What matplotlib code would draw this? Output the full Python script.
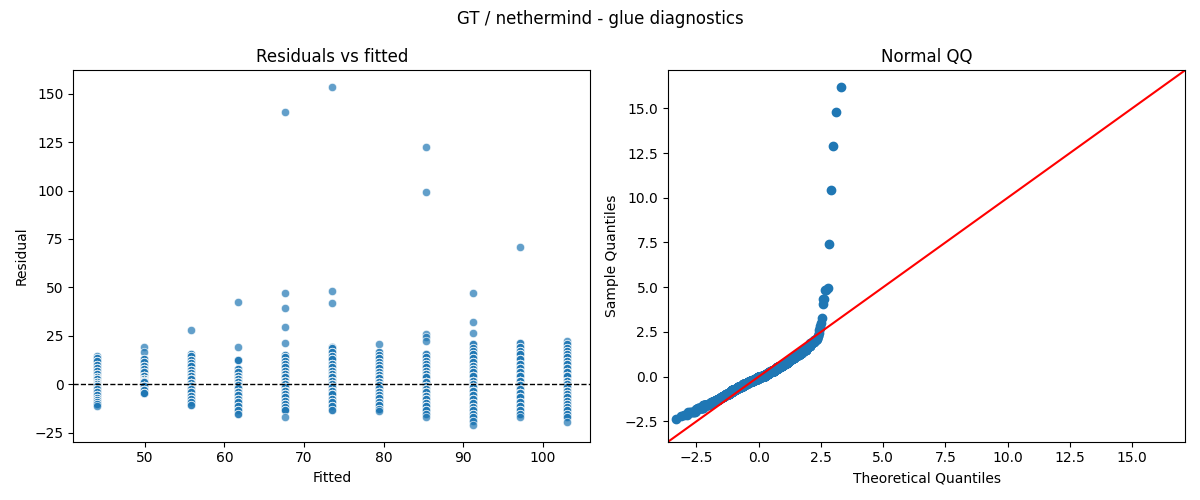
import numpy as np
import matplotlib
matplotlib.use("Agg")
import matplotlib.pyplot as plt
from statistics import NormalDist

# fitted value of each group
fitted_levels = [44.0, 49.9, 55.8, 61.7, 67.6, 73.5, 79.4, 85.3, 91.2, 97.1, 103.0]

# residual values seen in each group, and how many observations sit there
resid_by_level = [
    [14.7, 13.5, 12, 10, 8.5, 7, 5.5, 4, 2.5, 1, 0, -1, -2.5, -4, -5.5, -7, -8, -9, -10, -11.3],
    [19.5, 16.6, 13, 11.3, 9.6, 7.9, 6.2, 4.5, 3, 1.9, 1, -0.7, -2.7, -4.5],
    [27.8, 15.8, 14.4, 12.7, 11, 9.3, 7.5, 5.8, 4.5, 2.7, 0.7, -0.7, -2.4, -4.1, -5.8, -7.5, -9.3, -10.6],
    [42.3, 19.2, 12.7, 7.9, 6.2, 4.5, 2.7, 1, -0.3, -2, -3.8, -5.5, -7.5, -9.3, -11.3, -13, -15.4],
    [140.4, 47, 39.5, 29.5, 21.1, 15.1, 13.9, 12.2, 10.5, 8.7, 7, 5.3, 3.6, 1.9, 0.2, -1.5, -3.3, -5,
     -6.7, -8.4, -10.1, -11.8, -13.5, -16.6],
    [153.3, 48, 42, 19.5, 19, 16.5, 14.7, 13, 10.5, 8.7, 7, 5.3, 3.6, 1.9, 0.2, -1.5, -3.3, -5, -7.5,
     -9.3, -11, -13.5],
    [20.6, 16.8, 15.1, 13.4, 11.7, 9.9, 8.2, 6.5, 4.8, 3.1, 1.4, -0.3, -2.1, -3.8, -5.5, -7.2, -8.9,
     -10.6, -12.7, -13.7],
    [122.4, 99.3, 25.9, 24.2, 22.5, 15.6, 13.9, 12.2, 10.5, 8.7, 7, 5.3, 3.6, 1.4, -0.7, -2.4, -4.1,
     -5.8, -7.5, -9.6, -11.3, -13, -15.3, -17.1],
    [47, 32.4, 26.7, 20.7, 19, 17.3, 15.6, 13.4, 11.3, 9.6, 7.9, 6.2, 4.1, 1.9, 0.2, -1.5, -3.3, -5.5,
     -7.5, -9.6, -11.8, -13.5, -15.3, -17, -18.7, -20.9],
    [71.1, 21.3, 19.5, 17.3, 15.6, 13, 10.5, 8.2, 6.2, 4.1, 1.9, -0.2, -2.4, -4.5, -6.7, -8.9, -11,
     -13, -15.3, -17],
    [22.5, 20.7, 19, 17.3, 15.6, 13.9, 12.2, 10.5, 8.2, 6.2, 4.1, 1.9, 0.2, -1.5, -3.3, -5, -6.7, -8.4,
     -10.1, -11.8, -13.5, -15.3, -17, -19.2],
]
count_by_level = [
    [1, 3, 4, 6, 9, 10, 12, 14, 20, 21, 21, 20, 19, 12, 10, 8, 6, 4, 3, 1],
    [1, 1, 4, 6, 10, 13, 16, 20, 27, 29, 29, 23, 17, 5],
    [1, 2, 4, 6, 8, 10, 12, 14, 20, 21, 22, 21, 20, 13, 11, 8, 5, 2],
    [1, 1, 3, 6, 10, 13, 21, 23, 23, 22, 20, 13, 11, 9, 6, 4, 2],
    [1, 1, 1, 1, 1, 2, 3, 4, 6, 8, 10, 12, 19, 21, 22, 21, 20, 13, 11, 9, 7, 5, 3, 1],
    [1, 1, 1, 2, 2, 3, 4, 6, 8, 10, 12, 14, 20, 21, 22, 21, 19, 12, 9, 6, 4, 2],
    [1, 2, 3, 5, 7, 9, 11, 13, 14, 20, 21, 21, 20, 18, 11, 9, 7, 5, 3, 1],
    [1, 1, 1, 1, 1, 2, 3, 5, 7, 9, 11, 13, 19, 21, 21, 20, 19, 12, 10, 8, 6, 4, 2, 1],
    [1, 1, 1, 2, 2, 3, 4, 5, 6, 7, 8, 9, 15, 16, 16, 16, 15, 10, 9, 8, 7, 6, 5, 3, 2, 1],
    [1, 2, 3, 4, 5, 7, 9, 11, 12, 18, 19, 19, 18, 17, 11, 9, 7, 5, 3, 1],
    [1, 2, 3, 4, 5, 6, 7, 8, 9, 10, 16, 17, 17, 17, 16, 10, 9, 8, 7, 6, 5, 3, 2, 1],
]

fitted = []
resid = []
for lvl, vals, cnts in zip(fitted_levels, resid_by_level, count_by_level):
    r = np.repeat(vals, cnts)
    resid.extend(r)
    fitted.extend([lvl] * len(r))
fitted = np.array(fitted)
resid = np.array(resid)

fig, (ax1, ax2) = plt.subplots(1, 2, figsize=(12, 5), dpi=100)
fig.suptitle("GT / nethermind - glue diagnostics")

ax1.scatter(fitted, resid, s=36, color="C0", alpha=0.7, edgecolor="white", linewidth=0.6)
ax1.axhline(0, color="black", linestyle="--", linewidth=1)
ax1.set_title("Residuals vs fitted")
ax1.set_xlabel("Fitted")
ax1.set_ylabel("Residual")

# normal QQ, standardised sample vs theoretical quantiles, 45 degree line
n = len(resid)
nd = NormalDist()
theo = np.array([nd.inv_cdf(i / (n + 1)) for i in range(1, n + 1)])
samp = (np.sort(resid) - resid.mean()) / resid.std()
ax2.plot(theo, samp, marker="o", linestyle="none", color="C0")
lo = min(ax2.get_xlim()[0], ax2.get_ylim()[0])
hi = max(ax2.get_xlim()[1], ax2.get_ylim()[1])
ax2.plot([lo, hi], [lo, hi], color="red")
ax2.set_xlim(lo, hi)
ax2.set_ylim(lo, hi)
ax2.set_title("Normal QQ")
ax2.set_xlabel("Theoretical Quantiles")
ax2.set_ylabel("Sample Quantiles")

plt.tight_layout()
plt.savefig("out.png")
